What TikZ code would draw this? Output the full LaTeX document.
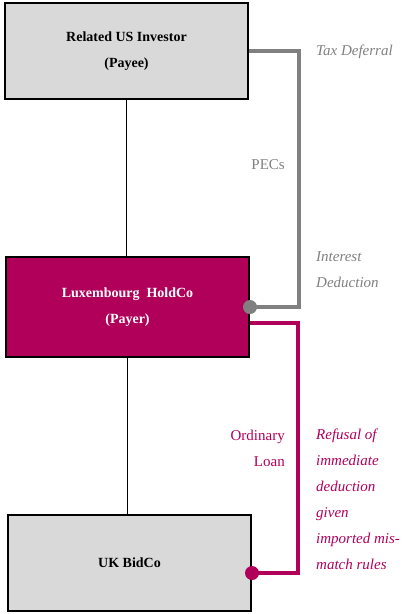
\documentclass[tikz,border=0pt]{standalone}
\usepackage{fontspec}
\setmainfont{Liberation Serif}
\definecolor{luxred}{RGB}{176,0,90}
\definecolor{boxgray}{RGB}{217,217,217}
\definecolor{pecgray}{RGB}{128,128,128}

\begin{document}
\begin{tikzpicture}[
    x=1pt, y=-1pt,
    entity/.style={rectangle, draw=black, line width=2pt, minimum width=243pt, minimum height=96pt, align=center, font=\fontsize{14}{26}\selectfont\bfseries},
    link/.style={draw=black, line width=1.6pt},
    pecline/.style={draw=pecgray, line width=4.5pt},
    loanline/.style={draw=luxred, line width=4.5pt},
    note/.style={font=\fontsize{15}{26}\selectfont\itshape, inner sep=0pt},
    label/.style={font=\fontsize{15}{26}\selectfont, inner sep=0pt}
]
\useasboundingbox (0,0) rectangle (404,614);

% Nodes
\node[entity, fill=boxgray] (investor) at (126.5,51) {Related US Investor\\(Payee)};
\node[entity, fill=luxred, text=white, minimum height=100pt] (holdco) at (127.5,307) {Luxembourg\ \ HoldCo\\(Payer)};
\node[entity, fill=boxgray] (bidco) at (129.5,563) {UK BidCo};

% Links
\draw[link] (investor) -- (investor |- holdco.north);
\draw[link] (holdco) -- (holdco |- bidco.north);

% PECs and loan
\draw[pecline] (investor.east) -- ++(50,0) |- (holdco.east);
\fill[pecgray] (holdco.east) circle (7pt);
\draw[loanline] ([yshift=-16pt]holdco.east) -- ++(48,0) |- ([yshift=-10pt]bidco.east);
\fill[luxred] ([yshift=-10pt]bidco.east) circle (7pt);

% Labels
\node[label, text=pecgray, anchor=east] (pecs) at (285,165) {PECs};
\node[label, text=luxred, anchor=east, align=right] (loan) at (285,448) {Ordinary\\Loan};
\node[note, text=pecgray, anchor=west] (deferral) at (316,52) {Tax Deferral};
\node[note, text=pecgray, anchor=west, align=left] (deduction) at (316,270) {Interest\\Deduction};
\node[note, text=luxred, anchor=west, align=left] (refusal) at (316,499.5) {Refusal of\\immediate\\deduction\\given\\imported mis-\\match rules};
\end{tikzpicture}
\end{document}
